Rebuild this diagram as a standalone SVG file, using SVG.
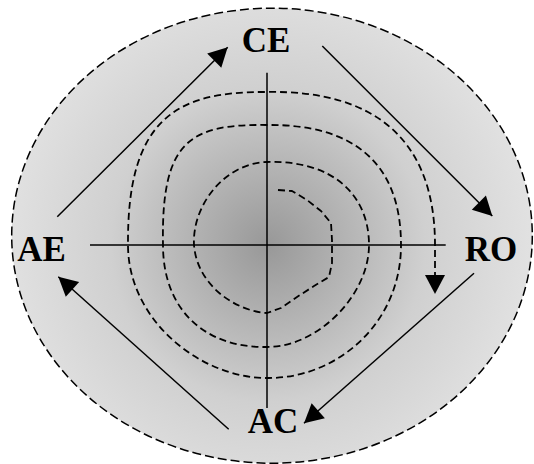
<svg xmlns="http://www.w3.org/2000/svg" width="534" height="464" viewBox="0 0 534 464">
<style>
.lbl{font-family:"Liberation Serif","Times New Roman",serif;font-weight:bold;font-size:35px;fill:#000;text-anchor:middle}
.conn{stroke:#000;stroke-width:1.5;fill:none;marker-end:url(#ah)}
.axis{stroke:#000;stroke-width:1.5;fill:none}
.dash{stroke:#000;stroke-width:1.8;fill:none;stroke-dasharray:7 4;stroke-linejoin:round}
</style>
<defs>
<radialGradient id="bg" gradientUnits="userSpaceOnUse" cx="268" cy="245" r="262">
<stop offset="0" stop-color="#989898"/>
<stop offset="0.3" stop-color="#b4b4b4"/>
<stop offset="0.6" stop-color="#d0d0d0"/>
<stop offset="1" stop-color="#e1e1e1"/>
</radialGradient>
<marker id="ah" markerUnits="userSpaceOnUse" viewBox="-20 -11 21 22" refX="0" refY="0" markerWidth="21" markerHeight="22" orient="auto">
<path d="M0,0 L-19,-10 L-19,10 Z" fill="#000"/>
</marker>
</defs>
<g id="background">
<ellipse cx="272" cy="235.7" rx="260.3" ry="227.5" fill="url(#bg)" stroke="#000" stroke-width="1.5" stroke-dasharray="9 4"/>
</g>
<g id="axes">
<line class="axis" x1="90" y1="245" x2="445.7" y2="245"/>
<line class="axis" x1="267" y1="72.7" x2="267" y2="408"/>
</g>
<g id="spiral">
<path class="dash" marker-end="url(#ah)" d="M278,190 L292,191 L307,200 L321,211 L331,223 L332,240 L332,263 L329,277 L314,286 L297,297 L281,308 L267,313 C235,311 197,285 194,245 C192,205 225,163 267,162 C333,160 369,195 369,245 C369,295 318,347 267,347 C205,348 163,310 163,245 C161,140 190,124 267,125 C350,124 401,160 401,245 C401,325 335,379 267,378 C200,378 128,320 128,245 C127,120 175,91 267,92 C375,90 435,140 435,245 L435,294"/>
</g>
<g id="connectors">
<line class="conn" x1="57.3" y1="216.7" x2="227.7" y2="47.3"/>
<line class="conn" x1="322.3" y1="46" x2="492.3" y2="216"/>
<line class="conn" x1="474" y1="273.3" x2="304" y2="423.3"/>
<line class="conn" x1="228.7" y1="429.3" x2="58.3" y2="276.7"/>
</g>
<g id="CE"><text class="lbl" x="266" y="52">CE</text></g>
<g id="RO"><text class="lbl" x="491" y="261">RO</text></g>
<g id="AC"><text class="lbl" x="273" y="433">AC</text></g>
<g id="AE"><text class="lbl" x="41.5" y="261">AE</text></g>
</svg>
